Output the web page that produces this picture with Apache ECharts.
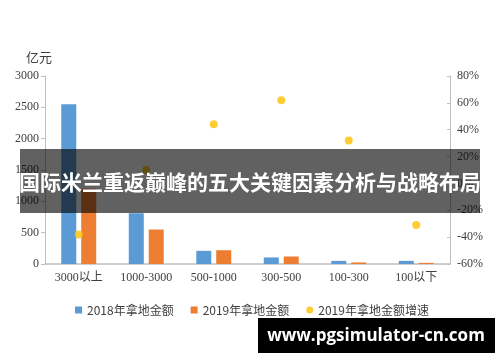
<!DOCTYPE html>
<html>
<head>
<meta charset="utf-8">
<script src="https://cdn.jsdelivr.net/npm/echarts@6/dist/echarts.min.js"></script>
<style>html,body{margin:0;padding:0;background:#fff;}#c{width:500px;height:362px;}</style>
</head>
<body>
<div id="c"></div>
<script>
var categories = ['3000以上', '1000-3000', '500-1000', '300-500', '100-300', '100以下'];
var amount2018 = [2550, 810, 210, 105, 50, 50];
var amount2019 = [1200, 550, 220, 120, 25, 18];
var growth2019 = [-38, 10, 44, 62, 32, -31];
var leftTicks = {min: 0, max: 3000, interval: 500};
var rightTicks = {min: -60, max: 80, interval: 20};
var seriesNames = ['2018年拿地金额', '2019年拿地金额', '2019年拿地金额增速'];

var numFont = '"Liberation Serif", "Noto Sans CJK SC", serif';
var cjkFont = '"Noto Sans CJK SC", "Liberation Sans", sans-serif';
var chart = echarts.init(document.getElementById('c'), null, {renderer: 'canvas'});
chart.setOption({
  animation: false,
  backgroundColor: '#ffffff',
  grid: {left: 45, right: 50, top: 76, bottom: 98},
  legend: {
    left: 70, top: 299,
    itemWidth: 7, itemHeight: 7, itemGap: 17,
    textStyle: {color: '#404040', fontSize: 12, fontFamily: cjkFont},
    data: [
      {name: seriesNames[0], icon: 'rect'},
      {name: seriesNames[1], icon: 'rect'},
      {name: seriesNames[2], icon: 'circle'}
    ]
  },
  xAxis: {
    type: 'category', data: categories,
    axisLine: {lineStyle: {color: '#bfbfbf', width: 1.5}},
    axisTick: {show: false},
    axisLabel: {color: '#404040', fontSize: 12, fontFamily: numFont, margin: 8, interval: 0}
  },
  yAxis: [{
    type: 'value', min: leftTicks.min, max: leftTicks.max, interval: leftTicks.interval,
    axisLine: {show: true, lineStyle: {color: '#bfbfbf'}},
    axisTick: {show: true, length: 4, lineStyle: {color: '#bfbfbf'}},
    splitLine: {show: false},
    axisLabel: {color: '#404040', fontSize: 12, fontFamily: numFont, margin: 6, formatter: function (v) { return String(v); }}
  }, {
    type: 'value', min: rightTicks.min, max: rightTicks.max, interval: rightTicks.interval,
    position: 'right',
    axisLine: {show: true, lineStyle: {color: '#bfbfbf'}},
    axisTick: {show: true, inside: true, length: 3, lineStyle: {color: '#bfbfbf'}},
    splitLine: {show: false},
    axisLabel: {color: '#404040', fontSize: 12, fontFamily: numFont, margin: 7, formatter: '{value}%'}
  }],
  series: [{
    name: seriesNames[0], type: 'bar', data: amount2018, barWidth: 15, barGap: '33%',
    itemStyle: {color: '#5b9bd5'}
  }, {
    name: seriesNames[1], type: 'bar', data: amount2019, barWidth: 15,
    itemStyle: {color: '#ed7d31'}
  }, {
    name: seriesNames[2], type: 'scatter', yAxisIndex: 1, data: growth2019, symbolSize: 8,
    itemStyle: {color: '#ffc000'}
  }],
  graphic: [
    {type: 'text', left: 26, top: 51, style: {text: '亿元', fill: '#404040', font: '13px ' + cjkFont}},
    {type: 'rect', z: 100, shape: {x: 20, y: 149, width: 460, height: 64}, style: {fill: 'rgba(0,0,0,0.62)'}},
    {type: 'text', z: 101, x: 250, y: 182, style: {text: '国际米兰重返巅峰的五大关键因素分析与战略布局', fill: '#ffffff', font: 'bold 21px ' + cjkFont, textAlign: 'center', textVerticalAlign: 'middle'}},
    {type: 'rect', z: 100, shape: {x: 258, y: 318, width: 237, height: 35}, style: {fill: '#000000'}},
    {type: 'text', z: 101, x: 376, y: 336, style: {text: 'www.pgsimulator-cn.com', fill: '#ffffff', font: 'bold 17px "Open Sans", "DejaVu Sans", sans-serif', textAlign: 'center', textVerticalAlign: 'middle'}}
  ]
});
</script>
</body>
</html>
